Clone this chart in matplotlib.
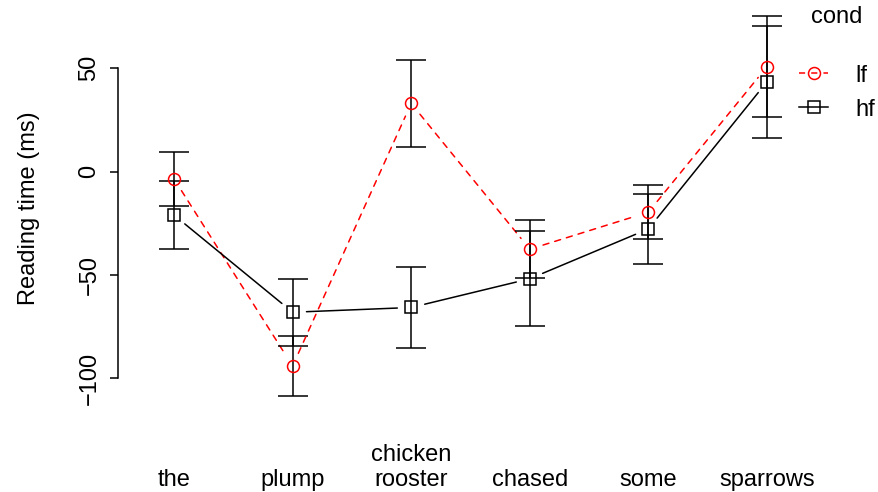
import numpy as np
import matplotlib
matplotlib.use("Agg")
import matplotlib.pyplot as plt
from matplotlib.lines import Line2D

plt.rcParams['font.family'] = ['Liberation Sans', 'DejaVu Sans']

# data
words = ['the', 'plump', 'chicken\nrooster', 'chased', 'some', 'sparrows']
conds = ['lf', 'hf']
lf_mean = [-3.5, -94.0, 33.0, -37.5, -19.6, 50.8]
lf_err = [13.2, 14.5, 21.0, 14.0, 13.0, 24.5]
hf_mean = [-21.0, -68.0, -65.7, -51.8, -27.7, 43.5]
hf_err = [16.5, 16.1, 19.4, 23.0, 17.0, 27.0]
yticks = [-100, -50, 0, 50]

FS = 17
LW = 1.1
x = np.arange(1, len(words) + 1)

fig = plt.figure(figsize=(8.79, 4.92), dpi=100)
W, H = 879, 492
ax = fig.add_axes([150.3 / W, (H - 409.4) / H, 640.4 / W, 403.1 / H])
ax.set_xlim(0.8, 6.2)
ax.set_ylim(-115, 80)


def draw_cond(means, errs, color, ls, marker):
    # error bars (always black)
    ax.errorbar(x, means, yerr=errs, fmt='none', ecolor='black',
                elinewidth=LW, capsize=11, capthick=LW, zorder=2)
    # points
    ax.plot(x, means, ls='none', marker=marker, ms=8.6, mfc='none',
            mec=color, mew=LW, zorder=3)
    # connecting lines with gaps around points (R type="b")
    for i in range(len(x) - 1):
        ax.annotate('', xy=(x[i + 1], means[i + 1]), xytext=(x[i], means[i]),
                    arrowprops=dict(arrowstyle='-', shrinkA=10, shrinkB=10,
                                    color=color, lw=LW, linestyle=ls),
                    zorder=2)


draw_cond(lf_mean, lf_err, 'red', (0, (4, 4)), 'o')
draw_cond(hf_mean, hf_err, 'black', '-', 's')

# axes styling
for s in ['top', 'right', 'bottom']:
    ax.spines[s].set_visible(False)
ax.spines['left'].set_position(('outward', 23))
ax.spines['left'].set_bounds(-100, 50)
ax.spines['left'].set_linewidth(LW)
ax.set_yticks(yticks)
ax.tick_params(axis='y', length=5.8, width=LW, labelsize=FS, pad=7,
               labelrotation=90)
for lbl in ax.get_yticklabels():
    lbl.set_va('center')
ax.set_ylabel('Reading time (ms)', fontsize=FS, labelpad=28)

ax.set_xticks(x)
ax.set_xticklabels(words, fontsize=FS, linespacing=1.2)
ax.tick_params(axis='x', length=0, pad=59)
for lbl in ax.get_xticklabels():
    lbl.set_va('bottom')

# legend
handles = [
    Line2D([], [], color='red', ls=(0, (4, 4)), lw=LW, marker='o', ms=8.6,
           mfc='none', mec='red', mew=LW),
    Line2D([], [], color='black', ls='-', lw=LW, marker='s', ms=8.6,
           mfc='none', mec='black', mew=LW),
]
leg = ax.legend(handles, conds, title='cond', fontsize=FS, title_fontsize=FS,
                frameon=False, loc='upper left', handlelength=1.25,
                handletextpad=1.15, labelspacing=0.5, borderpad=0,
                bbox_to_anchor=(787 / W, 1.012), bbox_transform=fig.transFigure)
leg._legend_box.align = 'center'
leg._legend_box.sep = 26.5

fig.savefig('out.png', dpi=100)
